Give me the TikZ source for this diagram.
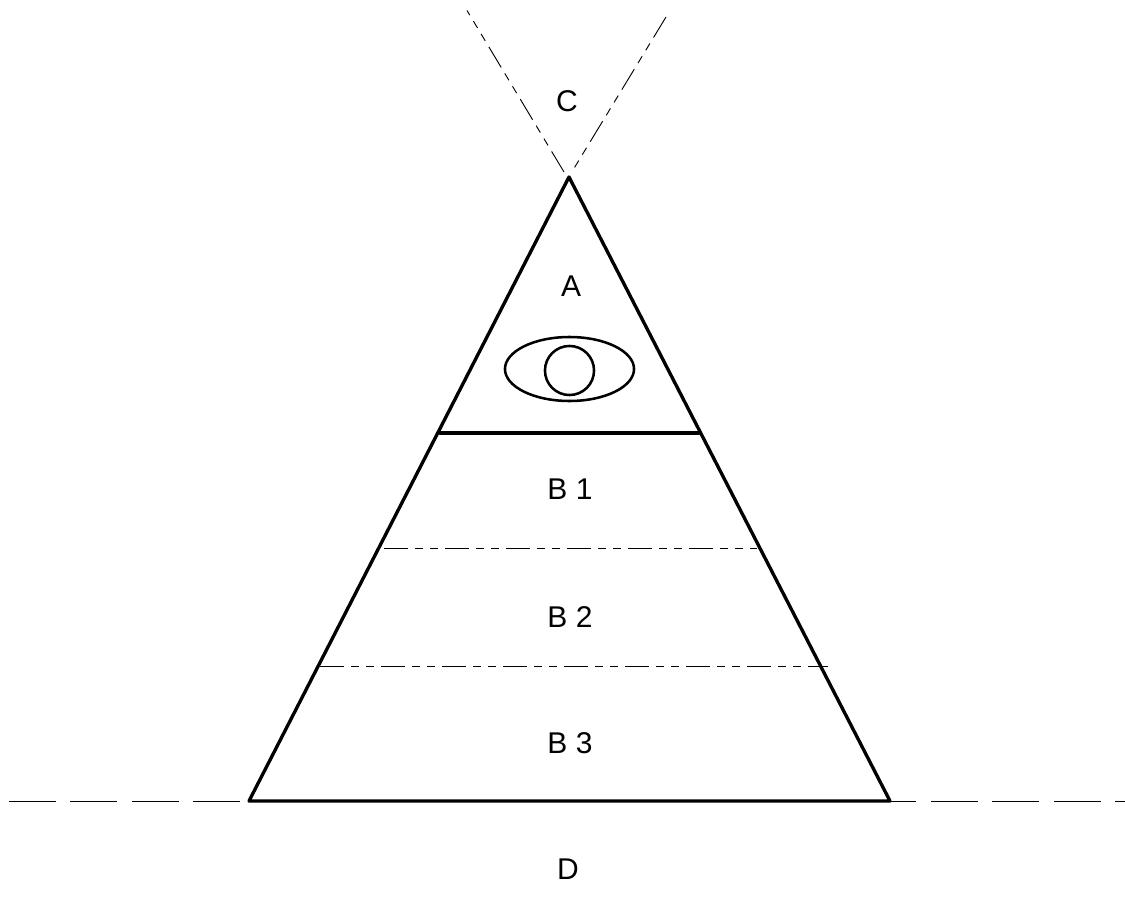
\documentclass[tikz,border=0pt]{standalone}
\usepackage{fontspec}
\setmainfont{Liberation Sans}
\usetikzlibrary{shapes.geometric}
\tikzset{
  lab/.style={font=\fontsize{22.5pt}{26pt}\selectfont,inner sep=0pt,text=black},
  heavy/.style={line width=2.5pt,line join=round,line cap=round},
  longdash/.style={line width=0.75pt,dash pattern=on 35.2pt off 10.9pt},
  longdashb/.style={line width=0.75pt,dash pattern=on 35.2pt off 10.9pt,dash phase=15.4pt},
  chain/.style={line width=0.7pt,dash pattern=on 18pt off 5.25pt on 6pt off 5.25pt on 6pt off 5.25pt},
  eye/.style={draw,line width=1.9pt,inner sep=0pt},
}
\begin{document}
\begin{tikzpicture}[x=0.75pt,y=-0.75pt]
\useasboundingbox (0,0) rectangle (1125,910);
\coordinate (apex) at (569,177);
\coordinate (bl) at (249,801);
\coordinate (br) at (890,801);
\coordinate (sl) at (440,433);
\coordinate (sr) at (699,433);
\coordinate (b1l) at (384,548);
\coordinate (b1r) at (757,548);
\coordinate (b2l) at (320,666);
\coordinate (b2r) at (828,666);
\coordinate (dl) at (9,801);
\coordinate (dr) at (1125,801);
\coordinate (cl) at (564,172);
\coordinate (clt) at (467,10.5);
\coordinate (cr) at (573,170);
\coordinate (crt) at (666,17);
\draw[longdash] (dl) -- (bl);
\draw[longdashb] (br) -- (dr);
\draw[chain] (b1l) -- (b1r);
\draw[chain] (b2l) -- (b2r);
\draw[chain] (cl) -- (clt);
\draw[chain] (crt) -- (cr);
\draw[heavy] (apex) -- (br) -- (bl) -- cycle;
\draw[heavy] (sl) -- (sr);
\node[eye,ellipse,minimum width=96.8pt,minimum height=48pt] (eyeo) at (569.5,369) {};
\node[eye,circle,minimum size=36.8pt] (eyei) at (569.5,370.5) {};
\node[lab] (C) at (567,101) {C};
\node[lab] (A) at (571,286) {A};
\node[lab] (B1) at (570,489) {B 1};
\node[lab] (B2) at (570,617) {B 2};
\node[lab] (B3) at (570,743) {B 3};
\node[lab] (D) at (568,869) {D};
\end{tikzpicture}
\end{document}
